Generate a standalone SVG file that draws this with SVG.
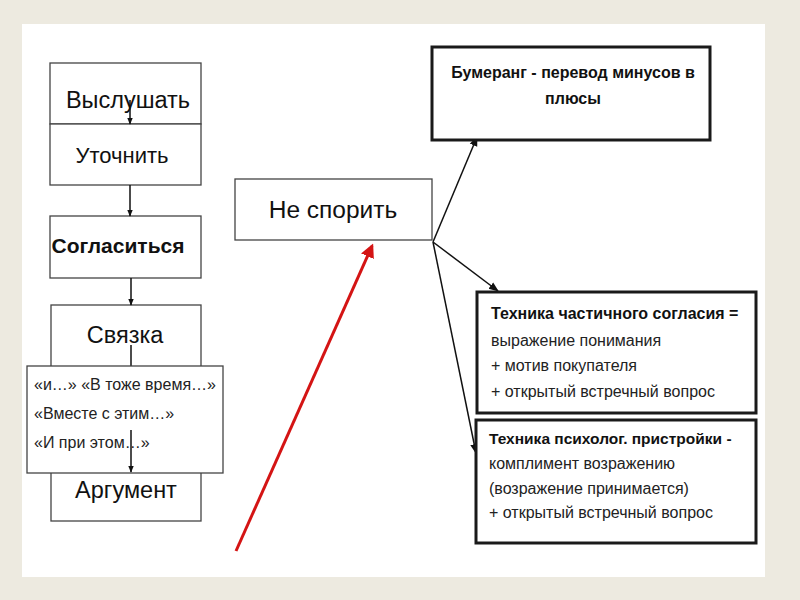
<svg xmlns="http://www.w3.org/2000/svg" width="800" height="600" viewBox="0 0 800 600">
<defs>
<style>
.box{fill:#fff;stroke:#444;stroke-width:1.3}
.tbox{fill:#fff;stroke:#1a1a1a;stroke-width:3}
.big{font-family:"Liberation Sans","DejaVu Sans",sans-serif;font-size:23.5px;fill:#111;text-anchor:middle}
.mid{font-family:"Liberation Sans","DejaVu Sans",sans-serif;font-size:16px;fill:#222}
.bold{font-weight:bold;fill:#111}
.cn{fill:none;stroke:#111;stroke-width:1.5}
.red{fill:none;stroke:#d41414;stroke-width:3}
</style>
<marker id="ah" viewBox="0 0 10 10" refX="9" refY="5" markerWidth="7" markerHeight="7" orient="auto" markerUnits="userSpaceOnUse">
<path d="M0,1 L10,5 L0,9 z" fill="#111"/>
</marker>
<marker id="ahs" viewBox="0 0 10 10" refX="9" refY="5" markerWidth="10" markerHeight="10" orient="auto" markerUnits="userSpaceOnUse">
<path d="M0,1 L10,5 L0,9 z" fill="#111"/>
</marker>
<marker id="ahr" viewBox="0 0 10 10" refX="8" refY="5" markerWidth="14" markerHeight="14" orient="auto" markerUnits="userSpaceOnUse">
<path d="M0,0 L10,5 L0,10 z" fill="#d41414"/>
</marker>
</defs>
<rect x="0" y="0" width="800" height="600" fill="#edeae0"/>
<rect x="22" y="24" width="743" height="553" fill="#fff"/>

<g id="n-vyslushat"><rect class="box" x="50" y="63" width="151" height="61"/><text class="big" x="128" y="108">Выслушать</text></g>
<g id="n-utochnit"><rect class="box" x="50" y="124" width="151" height="61"/><text class="big" x="122" y="163" style="font-size:22px">Уточнить</text></g>
<g id="n-soglasitsya"><rect class="box" x="50" y="216" width="151" height="62"/><text class="big" x="118" y="253" style="font-weight:bold;font-size:21px">Согласиться</text></g>
<g id="n-svyazka"><rect class="box" x="51" y="305" width="150" height="70"/><text class="big" x="125" y="343">Связка</text></g>
<g id="n-argument"><rect class="box" x="51" y="460" width="150" height="61"/><text class="big" x="126" y="498">Аргумент</text></g>

<g id="connectors">
<line class="cn" x1="130" y1="100" x2="130" y2="124" marker-end="url(#ah)"/>
<line class="cn" x1="130" y1="185" x2="130" y2="216" marker-end="url(#ah)"/>
<line class="cn" x1="131" y1="278" x2="131" y2="305" marker-end="url(#ah)"/>
<line class="cn" x1="131" y1="345" x2="131" y2="366"/>
<line class="cn" x1="433" y1="242" x2="477" y2="137" marker-end="url(#ahs)"/>
<line class="cn" x1="433" y1="242" x2="498" y2="291" marker-end="url(#ahs)"/>
<line class="cn" x1="433" y1="242" x2="476" y2="453" marker-end="url(#ahs)"/>
<line class="red" x1="236" y1="551" x2="372" y2="246" marker-end="url(#ahr)"/>
</g>

<g id="n-overlay"><rect class="box" x="27" y="366" width="196" height="107"/>
<text class="mid" x="34" y="390">«и…» «В тоже время…»</text>
<text class="mid" x="34" y="419">«Вместе с этим…»</text>
<text class="mid" x="34" y="448">«И при этом…»</text>
<line class="cn" x1="131" y1="430" x2="131" y2="472" marker-end="url(#ah)"/>
</g>

<g id="n-nesporit"><rect class="box" x="235" y="179" width="197" height="61"/><text class="big" x="333" y="218" style="font-size:24.5px">Не спорить</text></g>

<g id="n-bumerang"><rect class="tbox" x="432" y="47" width="278" height="93"/>
<text class="mid bold" x="573" y="78" text-anchor="middle">Бумеранг - перевод минусов в</text>
<text class="mid bold" x="573" y="104" text-anchor="middle">плюсы</text>
</g>

<g id="n-chastichnoe"><rect class="tbox" x="477" y="292" width="279" height="121"/>
<text class="mid bold" x="491" y="319">Техника частичного согласия =</text>
<text class="mid" x="491" y="346">выражение понимания</text>
<text class="mid" x="491" y="371">+ мотив покупателя</text>
<text class="mid" x="491" y="397">+ открытый встречный вопрос</text>
</g>

<g id="n-pristroika"><rect class="tbox" x="476" y="420" width="280" height="123"/>
<text class="mid bold" x="489" y="444" style="font-size:15.5px">Техника психолог. пристройки -</text>
<text class="mid" x="489" y="469">комплимент возражению</text>
<text class="mid" x="489" y="494">(возражение принимается)</text>
<text class="mid" x="489" y="518">+ открытый встречный вопрос</text>
</g>
</svg>
